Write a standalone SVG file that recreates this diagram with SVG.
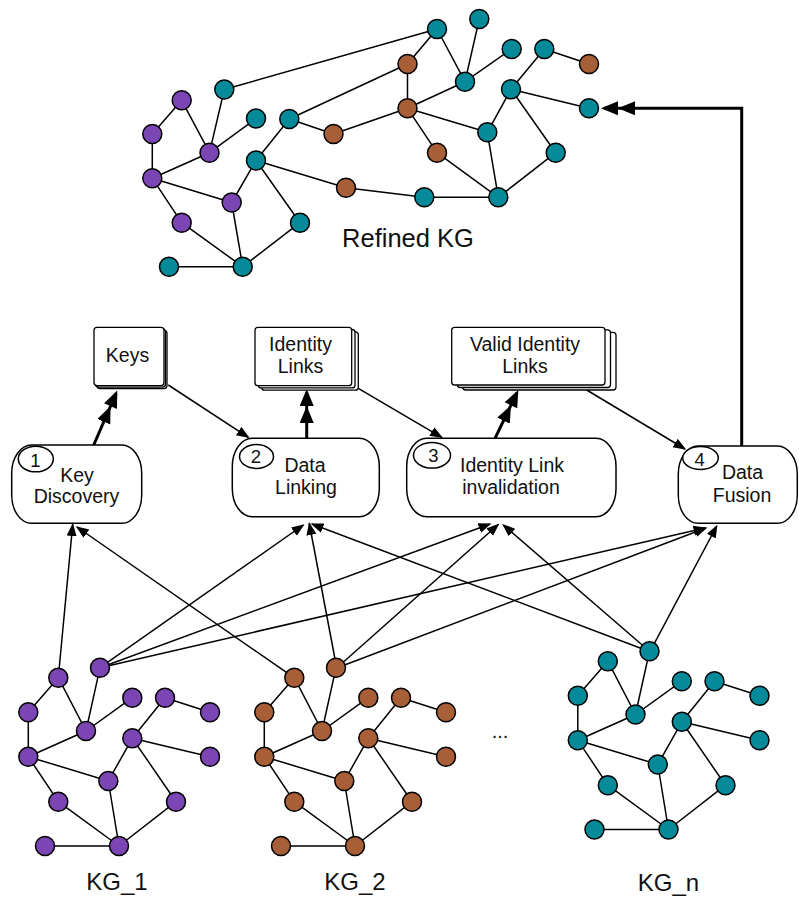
<svg xmlns="http://www.w3.org/2000/svg" width="799" height="898" viewBox="0 0 799 898">
<style>
text{font-family:"Liberation Sans",Arial,sans-serif;fill:#111}
.e{stroke:#000;stroke-width:1.5;fill:none}
.p{fill:#7b46b3;stroke:#000;stroke-width:1.5}
.b{fill:#a85f37;stroke:#000;stroke-width:1.5}
.t{fill:#058a9a;stroke:#000;stroke-width:1.5}
.thin{stroke:#000;stroke-width:1.5;fill:none;marker-end:url(#a1)}
.thick{stroke:#000;stroke-width:3;fill:none;marker-end:url(#a2)}
.box{fill:#fff;stroke:#000;stroke-width:1.5}
.doc{fill:#fff;stroke:#000;stroke-width:1.3}
.lbl{font-size:19.5px;text-anchor:middle}
.num{font-size:18.5px;text-anchor:middle}
.kg{font-size:24px;text-anchor:middle}
</style>
<defs>
<marker id="a1" markerUnits="userSpaceOnUse" markerWidth="14" markerHeight="11" refX="11.5" refY="5" orient="auto">
<path d="M0,0 L13,5 L0,10 Z" fill="#000"/>
</marker>
<marker id="a2" markerUnits="userSpaceOnUse" markerWidth="36" markerHeight="15" refX="31" refY="7" orient="auto">
<path d="M0,0 L17,7 L0,14 Z M17,0 L34,7 L17,14 Z" fill="#000"/>
</marker>
</defs>
<rect width="799" height="898" fill="#fff"/>

<g id="connectors">
<path class="thick" d="M93.3,446 L116.1,393.3"/>
<path class="thick" d="M306.7,438.3 V392"/>
<path class="thick" d="M495,438.3 L517,392.7"/>
<path class="thick" d="M741.7,446 V108.3 H604"/>
<path class="thin" d="M168.3,385 L248.3,437.3"/>
<path class="thin" d="M358.3,388.3 L441.7,437.3"/>
<path class="thin" d="M586.7,390 L685,449"/>
<path class="thin" d="M58.3,677.7 L72.7,524.5"/>
<path class="thin" d="M294,677.7 L77,527"/>
<path class="thin" d="M100,667.7 L303.3,525"/>
<path class="thin" d="M100,667.7 L490,524"/>
<path class="thin" d="M100,667.7 L705,528"/>
<path class="thin" d="M336.7,668 L309.3,523.5"/>
<path class="thin" d="M336.7,668 L498.3,524.5"/>
<path class="thin" d="M336.7,668 L706,528"/>
<path class="thin" d="M650,651.7 L312,524"/>
<path class="thin" d="M650,651.7 L503.3,525"/>
<path class="thin" d="M650,651.7 L716.7,526"/>
</g>

<g id="keys">
<rect class="doc" x="97" y="330.3" width="70" height="58.3" rx="3"/>
<rect class="doc" x="95.5" y="328.8" width="70" height="58.3" rx="3"/>
<rect class="doc" x="94" y="327.3" width="70" height="58.3" rx="3"/>
<text class="lbl" x="127.5" y="362.3">Keys</text>
</g>
<g id="identity-links">
<rect class="doc" x="261.6" y="331.8" width="96.7" height="58.4" rx="3"/>
<rect class="doc" x="258.3" y="329.5" width="96.7" height="58.4" rx="3"/>
<rect class="doc" x="255" y="327.3" width="96.7" height="58.4" rx="3"/>
<text class="lbl" x="300.5" y="350.7">Identity</text>
<text class="lbl" x="300.5" y="373.3">Links</text>
</g>
<g id="valid-identity-links">
<rect class="doc" x="462.7" y="332.3" width="153.3" height="57.7" rx="3"/>
<rect class="doc" x="457.2" y="329.8" width="153.3" height="57.7" rx="3"/>
<rect class="doc" x="451.7" y="327.3" width="153.3" height="57.7" rx="3"/>
<text class="lbl" x="525" y="350.7">Valid Identity</text>
<text class="lbl" x="525" y="373.3">Links</text>
</g>

<g id="key-discovery">
<rect class="box" x="11.7" y="445" width="130" height="78.3" rx="20" ry="28"/>
<ellipse class="box" cx="35.8" cy="459" rx="17.5" ry="12.8"/>
<text class="num" x="35.5" y="466.5">1</text>
<text class="lbl" x="77" y="481.7">Key</text>
<text class="lbl" x="76.5" y="503.3">Discovery</text>
</g>
<g id="data-linking">
<rect class="box" x="232.3" y="438.3" width="147" height="78.4" rx="20" ry="28"/>
<ellipse class="box" cx="256.5" cy="456.5" rx="17" ry="12"/>
<text class="num" x="256" y="463.3">2</text>
<text class="lbl" x="305" y="471.7">Data</text>
<text class="lbl" x="306" y="494">Linking</text>
</g>
<g id="identity-link-invalidation">
<rect class="box" x="406.7" y="438.3" width="209.3" height="78.4" rx="20" ry="28"/>
<ellipse class="box" cx="432" cy="455.3" rx="18.5" ry="12.8"/>
<text class="num" x="433.3" y="461.7">3</text>
<text class="lbl" x="512" y="471.7">Identity Link</text>
<text class="lbl" x="511" y="494">invalidation</text>
</g>
<g id="data-fusion">
<rect class="box" x="678.3" y="446" width="119" height="77.3" rx="20" ry="28"/>
<ellipse class="box" cx="700.5" cy="458" rx="17.8" ry="11.5"/>
<text class="num" x="699.7" y="465.7">4</text>
<text class="lbl" x="742.5" y="479.3">Data</text>
<text class="lbl" x="742" y="501.7">Fusion</text>
</g>

<g id="refined-kg">
<path class="e" d="M181.7,100.3L152.3,134 M181.7,100.3L209.5,152.7 M224.3,89.5L209.5,152.7 M256,118.5L209.5,152.7 M152.3,134L152.3,178.3 M152.3,178.3L209.5,152.7 M152.3,178.3L231.7,202.5 M152.3,178.3L181.7,222.7 M231.7,202.5L256,160.5 M256,160.5L289.3,119 M289.3,119L333.5,134 M256,160.5L346,187.7 M256,160.5L300,222.7 M231.7,202.5L242.7,266.7 M181.7,222.7L242.7,266.7 M300,222.7L242.7,266.7 M169,266.7L242.7,266.7"/>
<path class="e" d="M437,29L407.5,64 M437,29L465,81.7 M479.3,19L465,81.7 M511.7,49L465,81.7 M407.5,64L407.5,108.3 M407.5,108.3L465,81.7 M407.5,108.3L487.3,132.3 M407.5,108.3L437,152.7 M487.3,132.3L511,89.3 M511,89.3L544.3,49 M544.3,49L589,64 M511,89.3L589,108.3 M511,89.3L555.7,152.7 M487.3,132.3L498.3,197.3 M437,152.7L498.3,197.3 M555.7,152.7L498.3,197.3 M424.3,197.3L498.3,197.3"/>
<path class="e" d="M224.3,89.5L437,29 M289.3,119L407.5,64 M333.5,134L407.5,108.3 M346,187.7L424.3,197.3"/>
<circle class="p" cx="181.7" cy="100.3" r="9.5"/>
<circle class="t" cx="224.3" cy="89.5" r="9.5"/>
<circle class="p" cx="152.3" cy="134" r="9.5"/>
<circle class="t" cx="256" cy="118.5" r="9.5"/>
<circle class="t" cx="289.3" cy="119" r="9.5"/>
<circle class="b" cx="333.5" cy="134" r="9.5"/>
<circle class="p" cx="209.5" cy="152.7" r="9.5"/>
<circle class="t" cx="256" cy="160.5" r="9.5"/>
<circle class="p" cx="152.3" cy="178.3" r="9.5"/>
<circle class="b" cx="346" cy="187.7" r="9.5"/>
<circle class="p" cx="231.7" cy="202.5" r="9.5"/>
<circle class="p" cx="181.7" cy="222.7" r="9.5"/>
<circle class="t" cx="300" cy="222.7" r="9.5"/>
<circle class="t" cx="169" cy="266.7" r="9.5"/>
<circle class="t" cx="242.7" cy="266.7" r="9.5"/>
<circle class="t" cx="437" cy="29" r="9.5"/>
<circle class="t" cx="479.3" cy="19" r="9.5"/>
<circle class="b" cx="407.5" cy="64" r="9.5"/>
<circle class="t" cx="511.7" cy="49" r="9.5"/>
<circle class="t" cx="544.3" cy="49" r="9.5"/>
<circle class="b" cx="589" cy="64" r="9.5"/>
<circle class="t" cx="465" cy="81.7" r="9.5"/>
<circle class="t" cx="511" cy="89.3" r="9.5"/>
<circle class="b" cx="407.5" cy="108.3" r="9.5"/>
<circle class="t" cx="589" cy="108.3" r="9.5"/>
<circle class="t" cx="487.3" cy="132.3" r="9.5"/>
<circle class="b" cx="437" cy="152.7" r="9.5"/>
<circle class="t" cx="555.7" cy="152.7" r="9.5"/>
<circle class="t" cx="424.3" cy="197.3" r="9.5"/>
<circle class="t" cx="498.3" cy="197.3" r="9.5"/>
<text class="kg" x="408" y="247" style="font-size:25.5px">Refined KG</text>
</g>

<g id="kg1">
<path class="e" d="M58.3,677.7L28.3,712.3 M58.3,677.7L86,731 M100,667.7L86,731 M132.3,697.7L86,731 M28.3,712.3L28.3,756.7 M28.3,756.7L86,731 M28.3,756.7L108.3,781 M28.3,756.7L58.3,801.7 M108.3,781L132.3,738.3 M132.3,738.3L165,697.7 M165,697.7L210,712.3 M132.3,738.3L210,756.7 M132.3,738.3L176,801.7 M108.3,781L119,846 M58.3,801.7L119,846 M176,801.7L119,846 M45,846L119,846"/>
<g class="p">
<circle cx="58.3" cy="677.7" r="9.5"/><circle cx="100" cy="667.7" r="9.5"/><circle cx="28.3" cy="712.3" r="9.5"/><circle cx="132.3" cy="697.7" r="9.5"/><circle cx="165" cy="697.7" r="9.5"/><circle cx="210" cy="712.3" r="9.5"/><circle cx="86" cy="731" r="9.5"/><circle cx="132.3" cy="738.3" r="9.5"/><circle cx="28.3" cy="756.7" r="9.5"/><circle cx="210" cy="756.7" r="9.5"/><circle cx="108.3" cy="781" r="9.5"/><circle cx="58.3" cy="801.7" r="9.5"/><circle cx="176" cy="801.7" r="9.5"/><circle cx="45" cy="846" r="9.5"/><circle cx="119" cy="846" r="9.5"/>
</g>
<text class="kg" x="117" y="890">KG_1</text>
</g>

<g id="kg2">
<g transform="translate(236,0)">
<path class="e" d="M58.3,677.7L28.3,712.3 M58.3,677.7L86,731 M100,667.7L86,731 M132.3,697.7L86,731 M28.3,712.3L28.3,756.7 M28.3,756.7L86,731 M28.3,756.7L108.3,781 M28.3,756.7L58.3,801.7 M108.3,781L132.3,738.3 M132.3,738.3L165,697.7 M165,697.7L210,712.3 M132.3,738.3L210,756.7 M132.3,738.3L176,801.7 M108.3,781L119,846 M58.3,801.7L119,846 M176,801.7L119,846 M45,846L119,846"/>
<g class="b">
<circle cx="58.3" cy="677.7" r="9.5"/><circle cx="100" cy="667.7" r="9.5"/><circle cx="28.3" cy="712.3" r="9.5"/><circle cx="132.3" cy="697.7" r="9.5"/><circle cx="165" cy="697.7" r="9.5"/><circle cx="210" cy="712.3" r="9.5"/><circle cx="86" cy="731" r="9.5"/><circle cx="132.3" cy="738.3" r="9.5"/><circle cx="28.3" cy="756.7" r="9.5"/><circle cx="210" cy="756.7" r="9.5"/><circle cx="108.3" cy="781" r="9.5"/><circle cx="58.3" cy="801.7" r="9.5"/><circle cx="176" cy="801.7" r="9.5"/><circle cx="45" cy="846" r="9.5"/><circle cx="119" cy="846" r="9.5"/>
</g>
</g>
<text class="kg" x="355" y="890">KG_2</text>
</g>

<text id="ellipsis" x="500" y="738" style="font-size:20px;text-anchor:middle">...</text>

<g id="kgn">
<g transform="translate(549.5,-16.5)">
<path class="e" d="M58.3,677.7L28.3,712.3 M58.3,677.7L86,731 M100,667.7L86,731 M132.3,697.7L86,731 M28.3,712.3L28.3,756.7 M28.3,756.7L86,731 M28.3,756.7L108.3,781 M28.3,756.7L58.3,801.7 M108.3,781L132.3,738.3 M132.3,738.3L165,697.7 M165,697.7L210,712.3 M132.3,738.3L210,756.7 M132.3,738.3L176,801.7 M108.3,781L119,846 M58.3,801.7L119,846 M176,801.7L119,846 M45,846L119,846"/>
<g class="t">
<circle cx="58.3" cy="677.7" r="9.5"/><circle cx="100" cy="667.7" r="9.5"/><circle cx="28.3" cy="712.3" r="9.5"/><circle cx="132.3" cy="697.7" r="9.5"/><circle cx="165" cy="697.7" r="9.5"/><circle cx="210" cy="712.3" r="9.5"/><circle cx="86" cy="731" r="9.5"/><circle cx="132.3" cy="738.3" r="9.5"/><circle cx="28.3" cy="756.7" r="9.5"/><circle cx="210" cy="756.7" r="9.5"/><circle cx="108.3" cy="781" r="9.5"/><circle cx="58.3" cy="801.7" r="9.5"/><circle cx="176" cy="801.7" r="9.5"/><circle cx="45" cy="846" r="9.5"/><circle cx="119" cy="846" r="9.5"/>
</g>
</g>
<text class="kg" x="668.5" y="891">KG_n</text>
</g>
</svg>
